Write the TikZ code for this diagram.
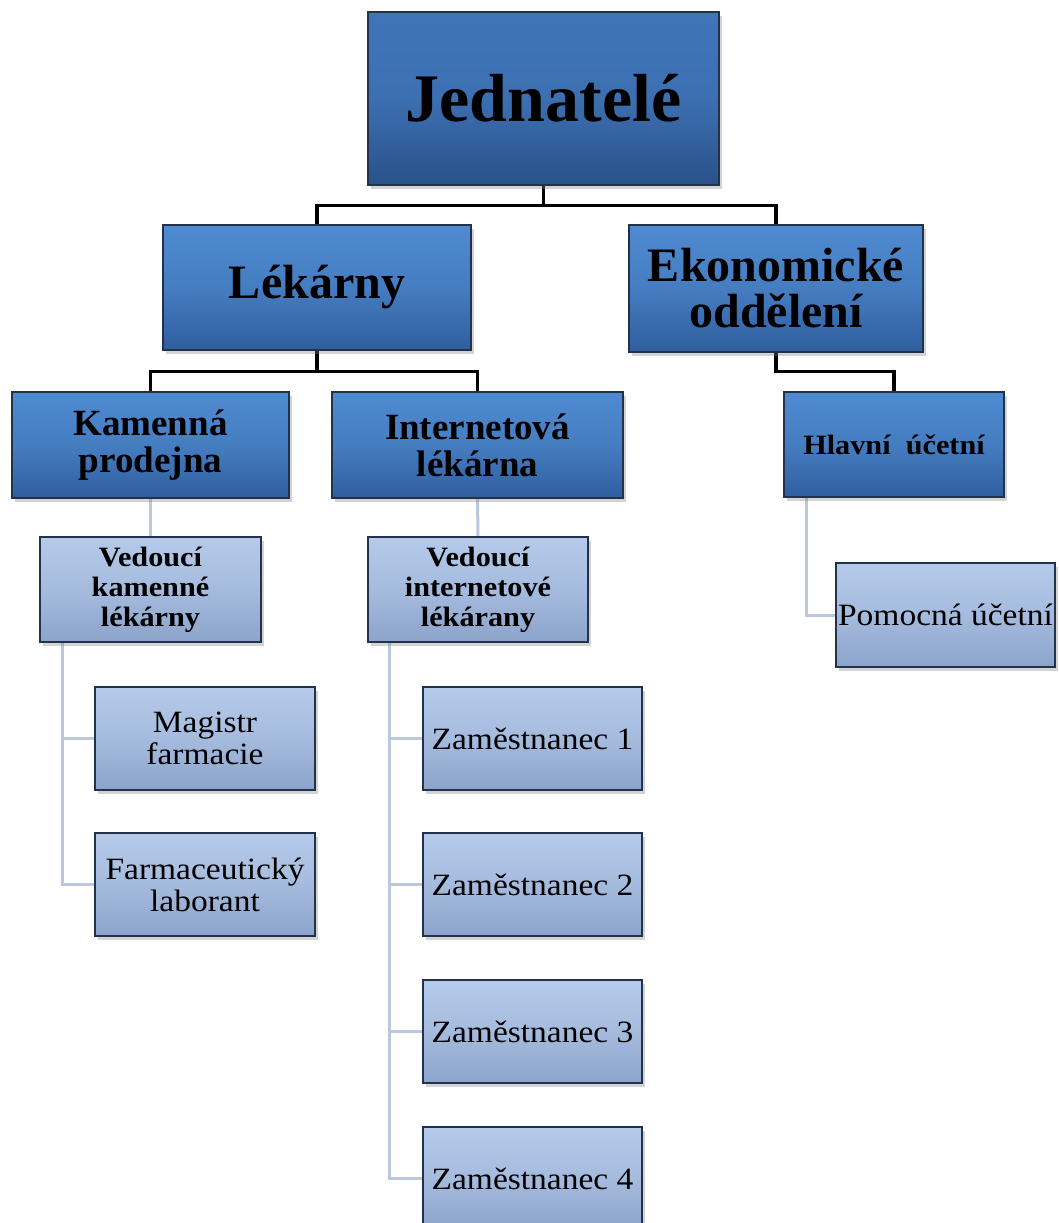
\documentclass[tikz,border=0pt]{standalone}
\usepackage{fontspec}
\setmainfont{Liberation Serif}
\newfontfamily\widefont[FakeStretch=1.08]{Liberation Serif}
\usetikzlibrary{shadows,backgrounds,calc}
\definecolor{dkTop}{HTML}{4F8AD0}
\definecolor{dkBot}{HTML}{2F5E9E}
\definecolor{jTop}{HTML}{3F75B8}
\definecolor{jBot}{HTML}{2A5189}
\definecolor{ltTop}{HTML}{B6CBEA}
\definecolor{ltBot}{HTML}{8CA3CB}
\definecolor{edge}{HTML}{22324A}
\definecolor{thinline}{HTML}{BAC8DE}
\tikzset{
  box/.style={draw=edge, line width=1.4pt, inner sep=0pt, align=center,
    drop shadow={shadow xshift=3pt, shadow yshift=-4pt, opacity=0.35}},
  topbox/.style={box, top color=jTop, bottom color=jBot, middle color=jTop!85!jBot},
  darkbox/.style={box, top color=dkTop, bottom color=dkBot, middle color=dkTop!70!dkBot},
  lightbox/.style={box, top color=ltTop, bottom color=ltBot, middle color=ltTop!60!ltBot},
  boldline/.style={draw=black, line width=3.2pt},
  softline/.style={draw=thinline, line width=3pt},
  smallbold/.style={font=\widefont\fontsize{28}{30}\selectfont\bfseries},
  smallreg/.style={font=\widefont\fontsize{31}{32}\selectfont},
}
\begin{document}
\begin{tikzpicture}[x=1pt,y=-1pt]
\useasboundingbox (0,0) rectangle (1058,1223);
\clip (0,0) rectangle (1058,1223);
% top level
\node[topbox, minimum width=351pt, minimum height=173pt,
  font=\fontsize{68}{70}\selectfont\bfseries] (J) at (543.5,98.5) {Jednatelé};
\node[darkbox, minimum width=308pt, minimum height=125pt,
  font=\fontsize{48}{50}\selectfont\bfseries] (L) at (317,287.5) {Lékárny};
\node[darkbox, minimum width=294pt, minimum height=127pt,
  font=\fontsize{48}{46}\selectfont\bfseries] (E) at (776,288.5) {Ekonomické\\oddělení};
% second level
\node[darkbox, minimum width=277pt, minimum height=106pt,
  font=\fontsize{37}{37}\selectfont\bfseries] (K) at (150.5,445) {Kamenná\\prodejna};
\node[darkbox, minimum width=291pt, minimum height=106pt,
  font=\fontsize{37}{37}\selectfont\bfseries] (I) at (477.5,445) {Internetová\\lékárna};
\node[darkbox, minimum width=220pt, minimum height=105pt, smallbold] (H) at (894,444.5)
  {Hlavní\ \ účetní};
% third level
\node[lightbox, minimum width=221pt, minimum height=105pt, smallbold] (VK) at (150.5,589.5)
  {Vedoucí\\kamenné\\lékárny};
\node[lightbox, minimum width=220pt, minimum height=105pt, smallbold] (VI) at (478,589.5)
  {Vedoucí\\internetové\\lékárany};
\node[lightbox, minimum width=219pt, minimum height=104pt, smallreg] (P) at (945.5,615)
  {Pomocná účetní};
% fourth level
\node[lightbox, minimum width=220pt, minimum height=103pt, smallreg] (M) at (205,738.5)
  {Magistr\\farmacie};
\node[lightbox, minimum width=220pt, minimum height=103pt, smallreg] (F) at (205,884.5)
  {Farmaceutický\\laborant};
\node[lightbox, minimum width=219pt, minimum height=103pt, smallreg] (Z1) at (532.5,738.5)
  {Zaměstnanec 1};
\node[lightbox, minimum width=219pt, minimum height=103pt, smallreg] (Z2) at (532.5,884.5)
  {Zaměstnanec 2};
\node[lightbox, minimum width=219pt, minimum height=103pt, smallreg] (Z3) at (532.5,1031.5)
  {Zaměstnanec 3};
\node[lightbox, minimum width=219pt, minimum height=103pt, smallreg] (Z4) at (532.5,1178.5)
  {Zaměstnanec 4};
% connectors
\begin{scope}[on background layer]
\draw[boldline] (J.south) -- ++(0,20) -| (L.north);
\draw[boldline] (J.south) -- ++(0,20) -| (E.north);
\draw[boldline] (L.south) -- ++(0,21) -| (K.north);
\draw[boldline] (L.south) -- ++(0,21) -| (I.north);
\draw[boldline] (E.south) -- ++(0,19) -| (H.north);
\draw[softline] (K.south) -- (VK.north);
\draw[softline] (I.south) -- (VI.north);
\draw[softline] ($(VK.south west)+(23,0)$) |- (M.west);
\draw[softline] ($(VK.south west)+(23,0)$) |- (F.west);
\draw[softline] ($(VI.south west)+(22,0)$) |- (Z1.west);
\draw[softline] ($(VI.south west)+(22,0)$) |- (Z2.west);
\draw[softline] ($(VI.south west)+(22,0)$) |- (Z3.west);
\draw[softline] ($(VI.south west)+(22,0)$) |- (Z4.west);
\draw[softline] ($(H.south west)+(23,0)$) |- (P.west);
\end{scope}
\end{tikzpicture}
\end{document}
